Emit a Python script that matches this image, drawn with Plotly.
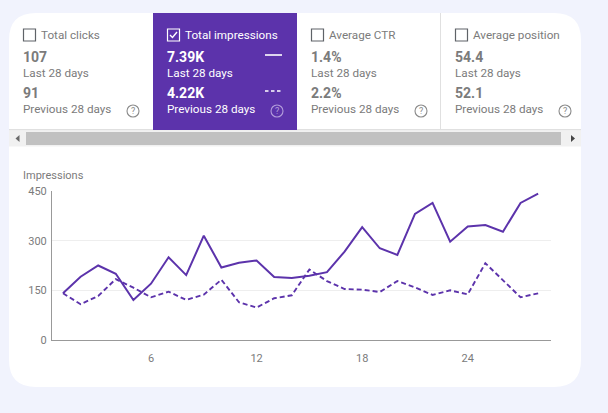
import plotly.graph_objects as go

W, H = 608, 413
L, R, T, B = 52, 551, 191, 340

days = list(range(1, 29))
last_28 = [141, 191, 225, 200, 121, 170, 250, 196, 315, 219, 233, 240, 190, 187,
           194, 205, 267, 341, 277, 257, 381, 414, 297, 343, 347, 327, 414, 442]
prev_28 = [141, 108, 133, 184, 158, 129, 146, 121, 137, 182, 114, 98, 126, 135,
           213, 178, 154, 152, 145, 178, 159, 136, 150, 138, 232, 181, 129, 141]

card_titles = ["Total clicks", "Total impressions", "Average CTR", "Average position"]
card_last = ["107", "7.39K", "1.4%", "54.4"]
card_prev = ["91", "4.22K", "2.2%", "52.1"]
card_left = [23, 167, 311, 455]
x_ticks = [6, 12, 18, 24]
y_ticks = [0, 150, 300, 450]

PURPLE = "#5c33ab"
GREY = "#7b7b7b"
BG = "#f1f3fd"


# page pixels to paper coordinates
def px(x):
    return (x - L) / (R - L)


def py(y):
    return (B - y) / (B - T)


def rect(x0, y0, x1, y1, color, line=None, width=0):
    return dict(type="rect", xref="paper", yref="paper", x0=px(x0), x1=px(x1), y0=py(y0), y1=py(y1),
                fillcolor=color, line=dict(color=line, width=width), layer="below")


def path(points, color=None, line=None, width=0, dash="solid", closed=False, layer="above"):
    d = "M " + " L ".join(f"{px(x):.5f},{py(y):.5f}" for x, y in points)
    if closed:
        d += " Z"
    return dict(type="path", xref="paper", yref="paper", path=d, fillcolor=color,
                line=dict(color=line, width=width, dash=dash), layer=layer)


def rounded_card(x0, y0, x1, y1, r):
    s = (f"M {px(x0 + r):.5f},{py(y0):.5f} L {px(x1 - r):.5f},{py(y0):.5f} "
         f"Q {px(x1):.5f},{py(y0):.5f} {px(x1):.5f},{py(y0 + r):.5f} "
         f"L {px(x1):.5f},{py(y1 - r):.5f} Q {px(x1):.5f},{py(y1):.5f} {px(x1 - r):.5f},{py(y1):.5f} "
         f"L {px(x0 + r):.5f},{py(y1):.5f} Q {px(x0):.5f},{py(y1):.5f} {px(x0):.5f},{py(y1 - r):.5f} "
         f"L {px(x0):.5f},{py(y0 + r):.5f} Q {px(x0):.5f},{py(y0):.5f} {px(x0 + r):.5f},{py(y0):.5f} Z")
    return dict(type="path", xref="paper", yref="paper", path=s, fillcolor="white",
                line=dict(width=0), layer="below")


def label(x, y, text, size=11.7, color=GREY, bold=False, anchor="left"):
    if bold:
        text = f"<b>{text}</b>"
    return dict(xref="paper", yref="paper", x=px(x), y=py(y), text=text, showarrow=False,
                xanchor=anchor, yanchor="middle", borderpad=0, borderwidth=0,
                font=dict(family="Roboto", size=size, color=color))


shapes = [
    rounded_card(9, 13, 581, 387, 27),
    rect(9, 129, 581, 130.5, "#e0e0e0"),
    rect(153, 13, 297, 130, PURPLE),
    rect(440, 13, 441, 129, "#e0e0e0"),
    rect(9, 131, 581, 146.5, "#f1f1f1"),
    rect(26, 132, 561, 145, "#c1c1c1"),
    path([(19.5, 135), (19.5, 142), (15.5, 138.5)], color="#6b6b6b", closed=True),
    path([(571, 135), (571, 142), (575, 138.5)], color="#444444", closed=True),
]
annotations = [label(23, 175, "Impressions", size=11)]

for i, left in enumerate(card_left):
    on = i == 1
    text_c = "white" if on else GREY
    box_c = "white" if on else "#5f6368"
    shapes.append(dict(type="rect", xref="paper", yref="paper", x0=px(left + 0.5), x1=px(left + 12.5),
                       y0=py(29), y1=py(41), line=dict(color=box_c, width=1.2)))
    annotations.append(label(left + 18, 34.5, card_titles[i], color=text_c))
    annotations.append(label(left, 57, card_last[i], size=14, color=text_c, bold=True))
    annotations.append(label(left, 73, "Last 28 days", color=text_c))
    annotations.append(label(left, 93, card_prev[i], size=14, color=text_c, bold=True))
    annotations.append(label(left, 109, "Previous 28 days", color=text_c))
    cx = left + 110
    help_c = "#b39ddb" if on else "#8a8a8a"
    shapes.append(dict(type="circle", xref="paper", yref="paper", x0=px(cx - 6), x1=px(cx + 6),
                       y0=py(105), y1=py(117), line=dict(color=help_c, width=1.1)))
    annotations.append(label(cx, 111, "?", size=9, color=help_c, anchor="center"))

# tick on the selected card and its two line keys
shapes.append(path([(170, 35), (172.5, 37.5), (177, 32)], line="white", width=1.4))
shapes.append(path([(265, 55), (282, 55)], line="white", width=1.6))
shapes.append(path([(265, 91), (282, 91)], line="white", width=1.6, dash="3.5px,2.5px"))

fig = go.Figure()
fig.add_trace(go.Scatter(x=days, y=prev_28, mode="lines", name="Previous 28 days",
                         line=dict(color=PURPLE, width=1.9, dash="5px,3px")))
fig.add_trace(go.Scatter(x=days, y=last_28, mode="lines", name="Last 28 days",
                         line=dict(color=PURPLE, width=2)))

fig.update_layout(
    width=W, height=H,
    margin=dict(l=L, r=W - R, t=T, b=H - B, pad=0),
    paper_bgcolor=BG, plot_bgcolor="white",
    showlegend=False,
    shapes=shapes, annotations=annotations,
    font=dict(family="Roboto", size=11, color=GREY),
)
fig.update_xaxes(range=[0.375, 28.73], tickvals=x_ticks, showgrid=False, zeroline=False,
                 showline=True, linecolor="#999999", linewidth=1, ticks="", ticklen=0,
                 ticklabelstandoff=8, tickfont=dict(size=11, color=GREY))
fig.update_yaxes(range=[0, 450], tickvals=y_ticks, gridcolor="#eeeeee", gridwidth=1, zeroline=False,
                 showline=True, linecolor="#999999", linewidth=1, ticks="",
                 ticklabelstandoff=2, tickfont=dict(size=11, color=GREY))

fig.write_html("out.html", config=dict(displayModeBar=False),
               post_script="document.body.style.margin='0';document.body.style.background='%s';" % BG)
